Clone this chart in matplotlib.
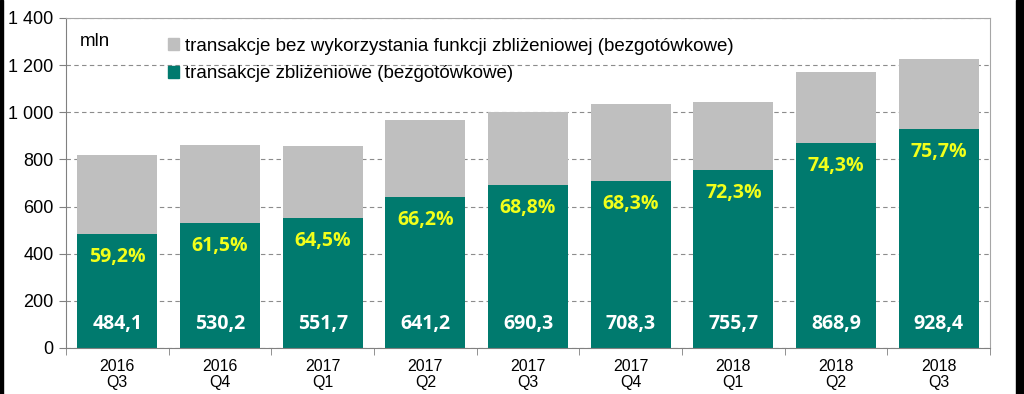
import matplotlib
matplotlib.use("Agg")
import matplotlib.pyplot as plt
from matplotlib.patches import Rectangle
from matplotlib.ticker import FixedLocator

categories = ["2016\nQ3", "2016\nQ4", "2017\nQ1", "2017\nQ2", "2017\nQ3",
              "2017\nQ4", "2018\nQ1", "2018\nQ2", "2018\nQ3"]
contactless = [484.1, 530.2, 551.7, 641.2, 690.3, 708.3, 755.7, 868.9, 928.4]
non_contactless = [333.6, 331.9, 303.6, 327.4, 313.0, 328.7, 289.5, 300.6, 298.0]
share_labels = ["59,2%", "61,5%", "64,5%", "66,2%", "68,8%", "68,3%", "72,3%", "74,3%", "75,7%"]
value_labels = ["484,1", "530,2", "551,7", "641,2", "690,3", "708,3", "755,7", "868,9", "928,4"]
yticks = [0, 200, 400, 600, 800, 1000, 1200, 1400]
ytick_labels = ["0", "200", "400", "600", "800", "1 000", "1 200", "1 400"]
legend_labels = ["transakcje bez wykorzystania funkcji zbliżeniowej (bezgotówkowe)",
                 "transakcje zbliżeniowe (bezgotówkowe)"]

GREEN = "#007A6E"
GRAY = "#BFBFBF"
YELLOW = "#F2FF1A"

plt.rcParams["font.family"] = ["Liberation Sans", "DejaVu Sans"]

fig = plt.figure(figsize=(10.24, 3.94), dpi=100)
ax = fig.add_axes([66/1024, 1 - 348/394, (990-66)/1024, (348-18)/394])

x = list(range(len(categories)))
w = 0.78
ax.bar(x, contactless, width=w, color=GREEN, zorder=2)
ax.bar(x, non_contactless, width=w, bottom=contactless, color=GRAY, zorder=2)

for i in x:
    ax.text(i, 103, value_labels[i], ha="center", va="center", color="white",
            fontsize=14, fontweight="bold", family=["Open Sans", "DejaVu Sans"], zorder=3)
    ax.text(i, contactless[i] - 97, share_labels[i], ha="center", va="center", color=YELLOW,
            fontsize=14, fontweight="bold", family=["Open Sans", "DejaVu Sans"], zorder=3)

ax.set_xlim(-0.5, len(categories) - 0.5)
ax.set_ylim(0, 1400)
ax.set_yticks(yticks)
ax.set_yticklabels(ytick_labels, fontsize=13)
ax.set_xticks(x)
ax.set_xticklabels(categories, fontsize=11.5, linespacing=1.05)
ax.xaxis.set_minor_locator(FixedLocator([i - 0.5 for i in range(len(categories) + 1)]))
ax.tick_params(axis="x", which="major", length=0, pad=8)
ax.tick_params(axis="x", which="minor", length=5, color="#808080", direction="out")
ax.tick_params(axis="y", length=5, color="#808080", direction="out", pad=4)

ax.grid(axis="y", linestyle=(0, (4, 3)), color="#8C8C8C", linewidth=0.8, zorder=0)
ax.set_axisbelow(True)
for s in ["top", "right"]:
    ax.spines[s].set_color("#A6A6A6")
for s in ["left", "bottom"]:
    ax.spines[s].set_color("#808080")

# legend
leg_handles = [Rectangle((0, 0), 1, 1, color=GRAY), Rectangle((0, 0), 1, 1, color=GREEN)]
ax.legend(leg_handles, legend_labels, loc="upper left",
          bbox_to_anchor=(168/1024, 1 - 38/394), bbox_transform=fig.transFigure,
          frameon=False, fontsize=13.5, handlelength=0.6, handleheight=0.6,
          handletextpad=0.3, labelspacing=0.55, borderaxespad=0, borderpad=0)

fig.text(80/1024, 1 - 42/394, "mln", fontsize=13.5, va="center", ha="left")

# black frame edges as in reference
fig.patches.append(Rectangle((0, 0), 3/1024, 1, transform=fig.transFigure, color="black"))
fig.patches.append(Rectangle((1016/1024, 0), 8/1024, 1, transform=fig.transFigure, color="black"))

fig.savefig("out.png", dpi=100)
